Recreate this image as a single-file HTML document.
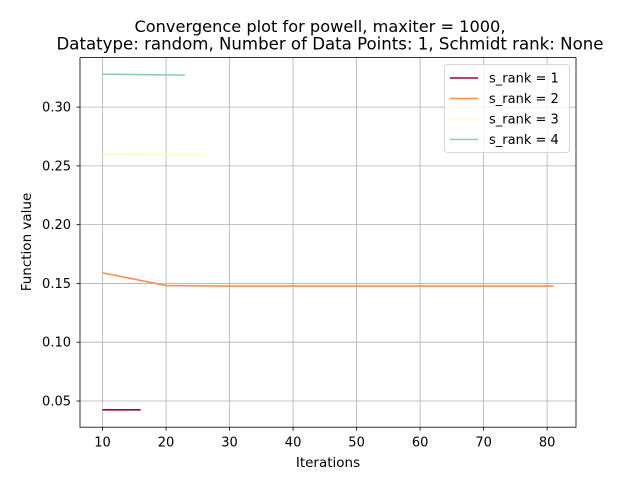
<!DOCTYPE html>
<html><head><meta charset="utf-8"><style>
body{margin:0;background:#fff;font-family:"Liberation Sans","DejaVu Sans",sans-serif;}
svg text{font-family:"DejaVu Sans","Liberation Sans",sans-serif;}
</style></head><body>
<svg id="chart" width="640" height="480" xmlns="http://www.w3.org/2000/svg">
<rect width="640" height="480" fill="#fff"/>
<text x="320" y="32" text-anchor="middle" font-size="16.2">Convergence plot for powell, maxiter = 1000,</text>
<text x="330" y="49.5" text-anchor="middle" font-size="16.6">Datatype: random, Number of Data Points: 1, Schmidt rank: None</text>
<g id="grid"></g><g id="series"></g>
<rect x="80" y="57.6" width="496" height="369.6" fill="none" stroke="#000" stroke-width="0.8"/>
<g id="ticks"></g>
<text x="328" y="467" text-anchor="middle" font-size="13.5">Iterations</text>
<text transform="translate(31,242) rotate(-90)" text-anchor="middle" font-size="13.5">Function value</text>
<g id="legend"></g>
</svg>
<script>
const xTicks=[10,20,30,40,50,60,70,80];
const yTicks=[0.05,0.10,0.15,0.20,0.25,0.30];
const seriesNames=["s_rank = 1","s_rank = 2","s_rank = 3","s_rank = 4"];
const seriesColors=["#9e0142","#f88e53","#feffbe","#89d0a4"];
const xs1=[10,16]; const ys1=[0.0425,0.0425];
const xs2=[10,20,30,40,50,60,70,81]; const ys2=[0.159,0.1482,0.1478,0.1478,0.1478,0.1478,0.1478,0.1478];
const xs3=[10,26]; const ys3=[0.2600,0.2597];
const xs4=[10,23]; const ys4=[0.3280,0.3272];
const X0=80,X1=576,Y0=427.2,Y1=57.6,xmin=6.45,xmax=84.55,ymin=0.0277,ymax=0.3421;
const sx=v=>X0+(v-xmin)/(xmax-xmin)*(X1-X0);
const sy=v=>Y0-(v-ymin)/(ymax-ymin)*(Y0-Y1);
const NS="http://www.w3.org/2000/svg";
function mk(t,a,p){const e=document.createElementNS(NS,t);for(const k in a)e.setAttribute(k,a[k]);p.appendChild(e);return e;}
const grid=document.getElementById('grid'),ticks=document.getElementById('ticks'),ser=document.getElementById('series');
xTicks.forEach(v=>{const x=sx(v);
const g=mk('line',{x1:x,x2:x,y1:Y1,y2:Y0,stroke:'#b0b0b0','stroke-width':0.8},grid);


mk('line',{x1:x,x2:x,y1:Y0,y2:Y0+3.5,stroke:'#000','stroke-width':0.8},ticks);
const t=mk('text',{x:x,y:Y0+19.5,'text-anchor':'middle','font-size':13},ticks);t.textContent=v;

});
yTicks.forEach(v=>{const y=sy(v);
const g=mk('line',{x1:X0,x2:X1,y1:y,y2:y,stroke:'#b0b0b0','stroke-width':0.8},grid);


mk('line',{x1:X0-3.5,x2:X0,y1:y,y2:y,stroke:'#000','stroke-width':0.8},ticks);
const t=mk('text',{x:X0-9,y:y+4.5,'text-anchor':'end','font-size':13},ticks);t.textContent=v.toFixed(2);

});
[[xs1,ys1],[xs2,ys2],[xs3,ys3],[xs4,ys4]].forEach((s,i)=>{
const pts=s[0].map((x,j)=>sx(x)+','+sy(s[1][j])).join(' ');
const l=mk('polyline',{points:pts,fill:'none',stroke:seriesColors[i],'stroke-width':1.6},ser);

});
const lg=document.getElementById('legend');
mk('rect',{x:444.5,y:64.5,width:125,height:88,rx:3,fill:'#fff','fill-opacity':0.8,stroke:'#cccccc','stroke-width':0.8},lg);
seriesNames.forEach((n,i)=>{const y=78+i*20.5;
const l=mk('line',{x1:450,x2:478,y1:y,y2:y,stroke:seriesColors[i],'stroke-width':1.6},lg);


const t=mk('text',{x:489,y:y+4.5,'font-size':13},lg);t.textContent=n;

});
</script>
</body></html>
